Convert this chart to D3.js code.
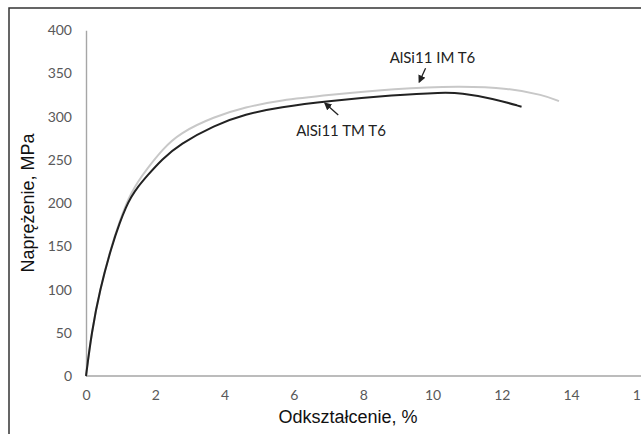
<!DOCTYPE html>
<html>
<head>
<meta charset="utf-8">
<script src="https://d3js.org/d3.v7.min.js"></script>
<style>
  body { margin: 0; background: #fff; }
  .tick text { font-family: Lato, "Open Sans", sans-serif; fill: #595959; }
</style>
</head>
<body>
<script>
// strain (%) and stress (MPa)
var tmStrain = [0, 0.16, 0.4, 0.74, 0.98, 1.15, 1.3, 1.5, 1.75, 2.2, 2.7, 3.7, 4.6, 5.6, 7.0, 8.9, 10.3, 10.8, 11.75, 12.57];
var tmStress = [0, 50, 100, 150, 178, 195, 207, 219, 231, 251, 268, 290, 303, 311, 318, 325, 328, 327.5, 321, 311.5];
var imStrain = [0, 0.16, 0.4, 0.74, 0.98, 1.15, 1.3, 1.5, 1.75, 2.2, 2.7, 3.7, 4.6, 5.6, 7.0, 8.9, 10.8, 12.2, 13.2, 13.65];
var imStress = [0, 50, 100, 151, 180, 198, 211, 225, 239, 262, 281, 300, 311, 319, 325, 332.5, 335.5, 333, 325, 318];
var xTicks = [0, 2, 4, 6, 8, 10, 12, 14, 16];
var yTicks = [0, 50, 100, 150, 200, 250, 300, 350, 400];

var W = 641, H = 434;
var svg = d3.select("body").append("svg")
    .attr("width", W)
    .attr("height", H);

// outer frame (right and bottom edges fall outside the picture)
svg.append("rect")
    .attr("x", 9).attr("y", 8)
    .attr("width", 700).attr("height", 500)
    .attr("fill", "none")
    .attr("stroke", "#333")
    .attr("stroke-width", 1.5);

var x = d3.scaleLinear().domain([0, 16]).range([86, 640.4]);
var y = d3.scaleLinear().domain([0, 400]).range([376, 30.2]);

var xAxis = svg.append("g")
    .attr("transform", "translate(0," + y(0) + ")")
    .call(d3.axisBottom(x).tickValues(xTicks).tickSize(0).tickPadding(14));
xAxis.select(".domain").attr("d", "M" + x(0) + ",0H" + W);

var yAxis = svg.append("g")
    .attr("transform", "translate(" + x(0) + ",0)")
    .call(d3.axisLeft(y).tickValues(yTicks).tickSize(0).tickPadding(14));

svg.selectAll(".domain").attr("stroke", "#a6a6a6").attr("stroke-width", 1.4);
svg.selectAll(".tick text").style("font-size", "14px");

var line = d3.line()
    .x(function(d) { return x(d[0]); })
    .y(function(d) { return y(d[1]); })
    .curve(d3.curveBasis);

var im = d3.zip(imStrain, imStress);
var tm = d3.zip(tmStrain, tmStress);

svg.append("path").datum(im)
    .attr("d", line)
    .attr("fill", "none")
    .attr("stroke", "#c8c8c8")
    .attr("stroke-width", 2);

svg.append("path").datum(tm)
    .attr("d", line)
    .attr("fill", "none")
    .attr("stroke", "#222")
    .attr("stroke-width", 2);

// arrow head
svg.append("defs").append("marker")
    .attr("id", "arr")
    .attr("viewBox", "0 0 10 10")
    .attr("refX", 8).attr("refY", 5)
    .attr("markerWidth", 6).attr("markerHeight", 6)
    .attr("orient", "auto")
    .append("path")
    .attr("d", "M0,0L10,5L0,10z")
    .attr("fill", "#222");

var labels = [
    { text: "AlSi11 IM T6", lx: 10.0, ly: 362, ax: [9.8, 355.9], bx: [9.62, 340.4] },
    { text: "AlSi11 TM T6", lx: 7.36, ly: 277.6, ax: [7.28, 301.9], bx: [6.9, 315.4] }
];

labels.forEach(function(l) {
    svg.append("text")
        .attr("x", x(l.lx)).attr("y", y(l.ly))
        .attr("text-anchor", "middle")
        .style("font-family", "Lato, 'Open Sans', sans-serif")
        .style("font-size", "15px")
        .attr("fill", "#222")
        .text(l.text);
    svg.append("line")
        .attr("x1", x(l.ax[0])).attr("y1", y(l.ax[1]))
        .attr("x2", x(l.bx[0])).attr("y2", y(l.bx[1]))
        .attr("stroke", "#222")
        .attr("stroke-width", 1.3)
        .attr("marker-end", "url(#arr)");
});

// axis titles
svg.append("text")
    .attr("x", 348).attr("y", 423)
    .attr("text-anchor", "middle")
    .style("font-family", "'Liberation Sans', Arial, sans-serif")
    .style("font-size", "18px")
    .attr("fill", "#111")
    .text("Odkształcenie, %");

svg.append("text")
    .attr("transform", "translate(34,203) rotate(-90)")
    .attr("text-anchor", "middle")
    .style("font-family", "'Liberation Sans', Arial, sans-serif")
    .style("font-size", "18px")
    .attr("fill", "#111")
    .text("Naprężenie, MPa");
</script>
</body>
</html>
